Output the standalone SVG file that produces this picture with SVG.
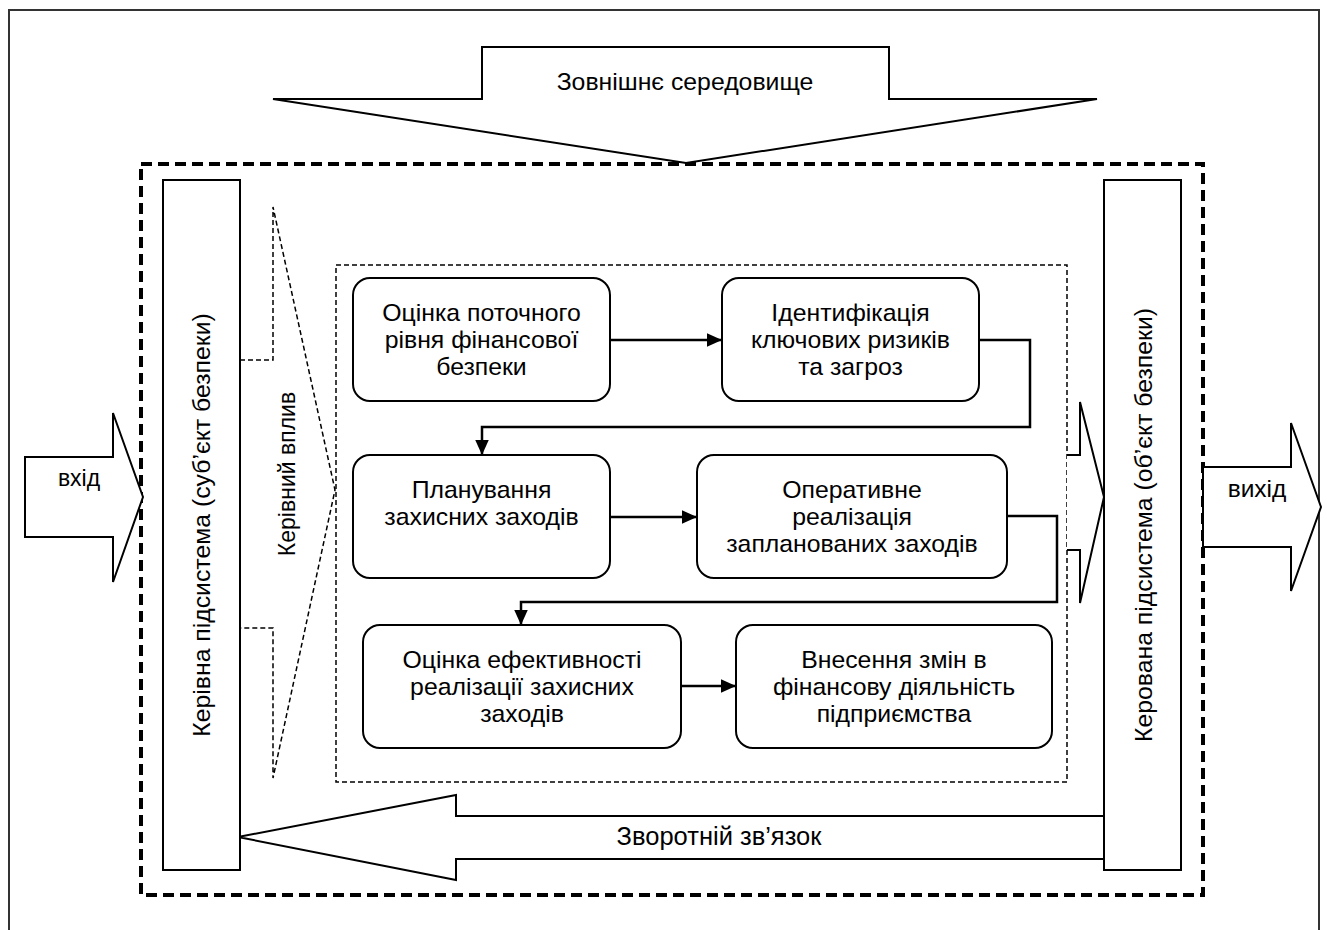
<svg xmlns="http://www.w3.org/2000/svg" width="1327" height="930" viewBox="0 0 1327 930">
<style>
text{font-family:"Liberation Sans",Arial,sans-serif;fill:#000;text-anchor:middle;dominant-baseline:central}
.t{font-size:24.8px}
.box{fill:#fff;stroke:#000;stroke-width:2}
.sh{fill:#fff;stroke:#000;stroke-width:2}
.con{fill:none;stroke:#000;stroke-width:2.5}
</style>
<defs>
<marker id="ah" viewBox="0 0 10 10" refX="10" refY="5" markerWidth="15" markerHeight="15" markerUnits="userSpaceOnUse" orient="auto">
<path d="M0,0.5 L10,5 L0,9.5 Z" fill="#000"/>
</marker>
</defs>
<rect width="1327" height="930" fill="#fff"/>
<path d="M9,935 V10 H1319 V935" fill="none" stroke="#333" stroke-width="2"/>

<g id="env">
<polygon class="sh" points="482,47 889,47 889,99 1097,99 686,163 273,99 482,99"/>
<text class="t" x="685" y="81">Зовнішнє середовище</text>
</g>

<rect x="141" y="164" width="1062" height="731" fill="none" stroke="#000" stroke-width="4" stroke-dasharray="11,6"/>

<g id="input">
<polygon class="sh" points="25,457 113,457 113,413 143,497 113,582 113,537 25,537"/>
<text x="79" y="478" style="font-size:23px">вхід</text>
</g>

<g id="output">
<polygon class="sh" points="1203,467 1291,467 1291,423 1321,507 1291,591 1291,547 1203,547"/>
<text x="1257" y="488" style="font-size:24.5px">вихід</text>
</g>

<g id="feedback">
<polygon class="sh" points="1104,816 456,816 456,795 238,837 456,880 456,859 1104,859"/>
<text x="719" y="836" style="font-size:25.5px">Зворотній зв’язок</text>
</g>

<g id="control">
<polyline points="240,360 273,360 273,207 335,490 273,778 273,628 240,628" fill="#fff" stroke="#000" stroke-width="1.5" stroke-dasharray="5,3"/>
<text transform="translate(287,474) rotate(-90)" style="font-size:23px">Керівний вплив</text>
</g>

<g id="inner-frame">
<rect x="336" y="265" width="731" height="517" fill="none" stroke="#000" stroke-width="1.5" stroke-dasharray="5,3"/>
</g>

<g id="small-arrow">
<polygon points="1067,455 1080,455 1080,402 1104,497 1080,603 1080,550 1067,550" fill="#fff" stroke="none"/>
<polyline points="1067,455 1080,455 1080,402 1104,497 1080,603 1080,550 1067,550" fill="none" stroke="#000" stroke-width="2"/>
</g>

<g id="left-sub">
<rect class="box" x="163" y="180" width="77" height="690"/>
<text class="t" transform="translate(201,525) rotate(-90)">Керівна підсистема (суб’єкт безпеки)</text>
</g>

<g id="right-sub">
<rect class="box" x="1104" y="180" width="77" height="690"/>
<text class="t" transform="translate(1143,525) rotate(-90)">Керована підсистема (об’єкт безпеки)</text>
</g>

<g id="connectors">
<line class="con" x1="610" y1="340" x2="722" y2="340" marker-end="url(#ah)"/>
<polyline class="con" points="979,340 1030,340 1030,427 482,427 482,455" marker-end="url(#ah)"/>
<line class="con" x1="611" y1="517" x2="697" y2="517" marker-end="url(#ah)"/>
<polyline class="con" points="1007,516 1057,516 1057,602 521,602 521,625" marker-end="url(#ah)"/>
<line class="con" x1="681" y1="686" x2="736" y2="686" marker-end="url(#ah)"/>
</g>

<g id="n1">
<rect class="box" x="353" y="278" width="257" height="123" rx="17"/>
<text class="t" x="481.5" y="312">Оцінка поточного</text>
<text class="t" x="481.5" y="339">рівня фінансової</text>
<text class="t" x="481.5" y="366">безпеки</text>
</g>
<g id="n2">
<rect class="box" x="722" y="278" width="257" height="123" rx="17"/>
<text class="t" x="850.5" y="312">Ідентифікація</text>
<text class="t" x="850.5" y="339">ключових ризиків</text>
<text class="t" x="850.5" y="366">та загроз</text>
</g>
<g id="n3">
<rect class="box" x="353" y="455" width="257" height="123" rx="17"/>
<text class="t" x="481.5" y="489">Планування</text>
<text class="t" x="481.5" y="516">захисних заходів</text>
</g>
<g id="n4">
<rect class="box" x="697" y="455" width="310" height="123" rx="17"/>
<text class="t" x="852" y="489">Оперативне</text>
<text class="t" x="852" y="516">реалізація</text>
<text class="t" x="852" y="543">запланованих заходів</text>
</g>
<g id="n5">
<rect class="box" x="363" y="625" width="318" height="123" rx="17"/>
<text class="t" x="522" y="659">Оцінка ефективності</text>
<text class="t" x="522" y="686">реалізації захисних</text>
<text class="t" x="522" y="713">заходів</text>
</g>
<g id="n6">
<rect class="box" x="736" y="625" width="316" height="123" rx="17"/>
<text class="t" x="894" y="659">Внесення змін в</text>
<text class="t" x="894" y="686">фінансову діяльність</text>
<text class="t" x="894" y="713">підприємства</text>
</g>
</svg>
